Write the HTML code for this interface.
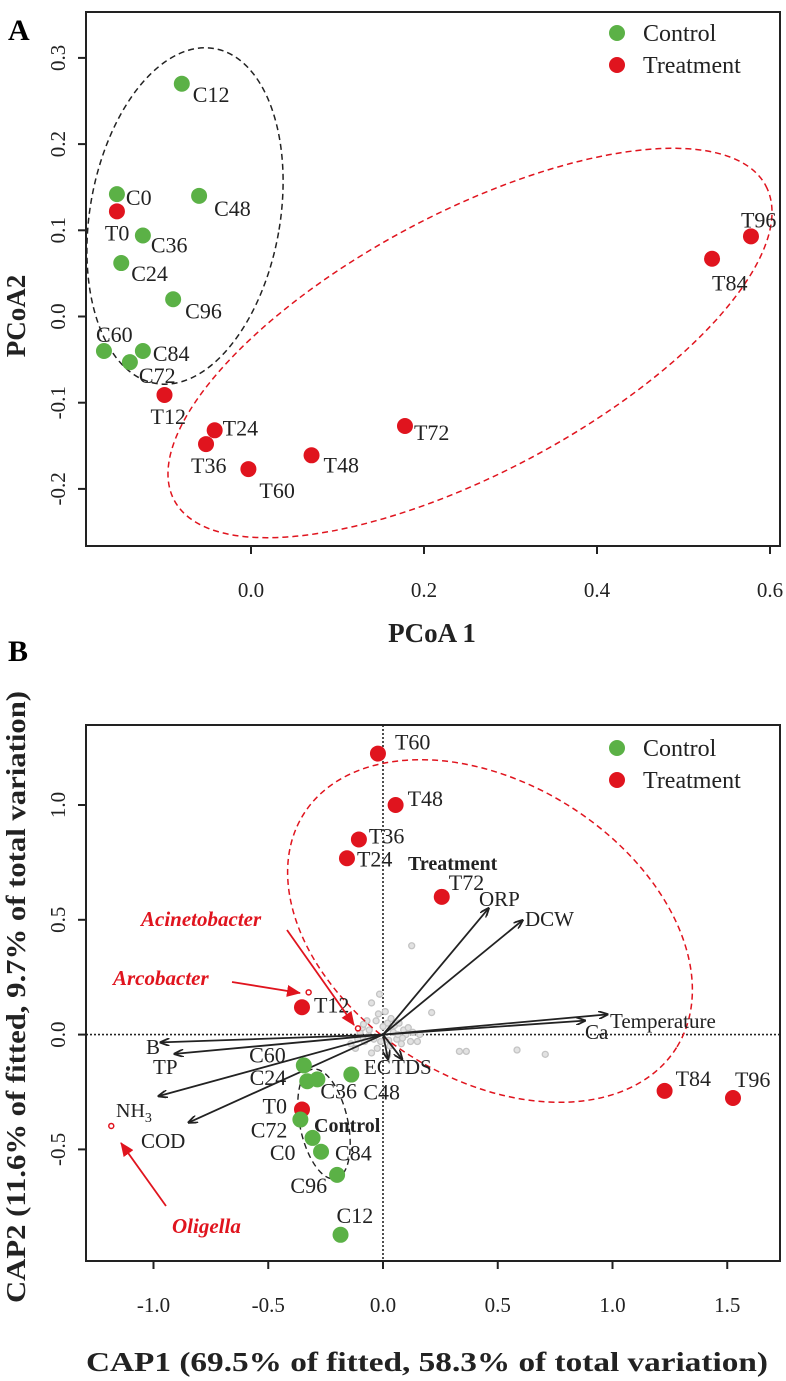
<!DOCTYPE html>
<html><head><meta charset="utf-8"><style>
html,body{margin:0;padding:0;background:#fff}
svg{display:block;font-family:"Liberation Serif",serif}
</style></head><body>
<svg id="chart" width="786" height="1381" viewBox="0 0 786 1381" xmlns="http://www.w3.org/2000/svg">
<g id="pa"></g>
<g id="pb"></g>
</svg>
<script>
// ---------- Panel A data ----------
const aNames = ["C12","C0","T0","C48","C36","C24","C96","C60","C84","C72","T12","T24","T36","T60","T48","T72","T84","T96"];
const aX = [-0.08,-0.155,-0.155,-0.06,-0.125,-0.15,-0.09,-0.17,-0.125,-0.14,-0.1,-0.042,-0.052,-0.003,0.07,0.178,0.533,0.578];
const aY = [0.27,0.142,0.122,0.14,0.094,0.062,0.02,-0.04,-0.04,-0.053,-0.091,-0.132,-0.148,-0.177,-0.161,-0.127,0.067,0.093];
const aLabDX = [11,9,-12,15,8,10,12,-8,10,9,-14,8,-15,11,12,9,0,-10];
const aLabDY = [18,11,29,20,17,18,19,-9,10,21,29,5,29,29,17,14,32,-9];
const aXTicks = [0.0,0.2,0.4,0.6];
const aYTicks = [-0.2,-0.1,0.0,0.1,0.2,0.3];
const aXTickLabels = ["0.0","0.2","0.4","0.6"];
const aYTickLabels = ["-0.2","-0.1","0.0","0.1","0.2","0.3"];

// ---------- Panel B data ----------
const bNames = ["T60","T48","T36","T24","T72","T12","T84","T96","C60","C24","C36","C48","T0","C72","C0","C84","C96","C12"];
const bX = [-0.022,0.055,-0.105,-0.157,0.256,-0.353,1.227,1.525,-0.345,-0.33,-0.286,-0.138,-0.353,-0.36,-0.307,-0.27,-0.2,-0.185];
const bY = [1.224,1.0,0.85,0.768,0.6,0.119,-0.245,-0.276,-0.134,-0.203,-0.195,-0.174,-0.326,-0.37,-0.45,-0.51,-0.611,-0.872];
const bLabDX = [17,12,10,10,7,12,11,2,-18,-21,3,12,-15,-13,-17,14,-10,-4];
const bLabDY = [-4,1,4,8,-7,5,-5,-11,-3,4,19,25,4,18,22,9,18,-12];
const bLabAnchor = ["start","start","start","start","start","start","start","start","end","end","start","start","end","end","end","start","end","start"];
const envNames = ["ORP","DCW","Temperature","Ca","B","TP","NH3","COD","EC","TDS"];
const envX = [0.46,0.608,0.978,0.88,-0.969,-0.908,-0.978,-0.847,0.022,0.083];
const envY = [0.55,0.498,0.088,0.061,-0.034,-0.084,-0.268,-0.383,-0.107,-0.107];
const envLabX = [479,525,610,585,146,153,116,141,364,392];
const envLabY = [906,926,1028,1039,1054,1074,1117,1148,1074,1074];
const grayX = [0.125,0.212,0.333,0.363,0.584,0.707,-0.015,-0.05,0.02,0.04,-0.03,-0.06,0.06,0.08,-0.08,0.1,-0.1,0.03,-0.04,0.05,0.09,-0.02,0.12,-0.12,0.15,0.01,-0.07,0.07,0.02,-0.01,0.045,-0.05,-0.09,-0.11,0.11,0.13,-0.14,0.16,0.035,-0.025,0.065,-0.065,0.0,0.085,-0.085,0.025];
const grayY = [0.387,0.096,-0.073,-0.073,-0.067,-0.086,0.176,0.138,0.05,0.03,0.06,0.02,-0.02,-0.04,-0.03,0.0,0.01,-0.05,-0.02,0.04,0.02,0.09,-0.03,-0.06,-0.03,0.1,0.06,0.05,-0.09,-0.03,0.01,-0.08,0.03,-0.02,0.03,0.01,-0.04,0.0,0.07,-0.06,0.0,-0.01,0.035,-0.015,0.045,-0.025];
const bXTicks = [-1.0,-0.5,0.0,0.5,1.0,1.5];
const bYTicks = [-0.5,0.0,0.5,1.0];
const bXTickLabels = ["-1.0","-0.5","0.0","0.5","1.0","1.5"];
const bYTickLabels = ["-0.5","0.0","0.5","1.0"];

const GREEN="#5bb146", RED="#e0141e", NS="http://www.w3.org/2000/svg";
function mk(parent, tag, attrs, text){
  const e=document.createElementNS(NS,tag);
  for(const k in attrs) e.setAttribute(k,attrs[k]);
  if(text!==undefined) e.textContent=text;
  parent.appendChild(e); return e;
}
const axA = v => 251 + 865*v;
const ayA = v => 316.5 - 862*v;
const axB = v => 383 + 229.5*v;
const ayB = v => 1034.6 - 229.6*v;

// ===== Panel A =====
const pa=document.getElementById('pa');
let t;
t=mk(pa,'text',{x:8,y:40,'font-size':30,'font-weight':'bold'},'A');
 
t=mk(pa,'ellipse',{cx:185,cy:216,rx:95,ry:170,transform:'rotate(10 185 216)',fill:'none',stroke:'#222','stroke-width':1.5,'stroke-dasharray':'6,4'});
 
t=mk(pa,'ellipse',{cx:470,cy:343,rx:335,ry:130,transform:'rotate(-28 470 343)',fill:'none',stroke:RED,'stroke-width':1.5,'stroke-dasharray':'6,4'});
 
aNames.forEach((n,i)=>{
  const cx=axA(aX[i]), cy=ayA(aY[i]);
  const c=mk(pa,'circle',{cx:cx,cy:cy,r:8,fill:n[0]==='C'?GREEN:RED});
  
  
  const l=mk(pa,'text',{x:cx+aLabDX[i],y:cy+aLabDY[i],'font-size':22,fill:'#222'},n);
  
  
});
t=mk(pa,'rect',{x:86,y:12,width:694,height:534,fill:'none',stroke:'#222','stroke-width':2});
 
aXTicks.forEach((v,i)=>{
  const x=axA(v);
  const tk=mk(pa,'line',{x1:x,y1:546,x2:x,y2:554,stroke:'#222','stroke-width':2});
   
  const tl=mk(pa,'text',{x:x,y:597,'font-size':21,'text-anchor':'middle',fill:'#222'},aXTickLabels[i]);
   
});
aYTicks.forEach((v,i)=>{
  const y=ayA(v);
  const tk=mk(pa,'line',{x1:78,y1:y,x2:86,y2:y,stroke:'#222','stroke-width':2});
   
  const tl=mk(pa,'text',{x:0,y:0,'font-size':21,'text-anchor':'middle',fill:'#222',transform:`translate(65 ${y}) rotate(-90)`},aYTickLabels[i]);
   
});
t=mk(pa,'text',{x:432,y:642,'font-size':27,'font-weight':'bold','text-anchor':'middle',fill:'#222'},'PCoA 1');
 
t=mk(pa,'text',{x:0,y:0,'font-size':27,'font-weight':'bold','text-anchor':'middle',fill:'#222',transform:'translate(25 316) rotate(-90)'},'PCoA2');
 
[[33,GREEN,'Control'],[65,RED,'Treatment']].forEach(d=>{
  const c=mk(pa,'circle',{cx:617,cy:d[0],r:8,fill:d[1]});
   
  const l=mk(pa,'text',{x:643,y:d[0]+8,'font-size':24,fill:'#222'},d[2]);
   
});

// ===== Panel B =====
const pb=document.getElementById('pb');
const defs=mk(pb,'defs',{});
const m1=mk(defs,'marker',{id:'ah',markerWidth:10,markerHeight:8,refX:9,refY:4,orient:'auto',markerUnits:'userSpaceOnUse'});
mk(m1,'path',{d:'M0,0 L10,4 L0,8',fill:'none',stroke:'#222','stroke-width':1.8});
const m2=mk(defs,'marker',{id:'ahr',markerWidth:14,markerHeight:12,refX:13,refY:6,orient:'auto',markerUnits:'userSpaceOnUse'});
mk(m2,'path',{d:'M0,0 L14,6 L0,12 Z',fill:RED});
t=mk(pb,'text',{x:8,y:661,'font-size':30,'font-weight':'bold'},'B');
 
t=mk(pb,'line',{x1:axB(0),y1:725,x2:axB(0),y2:1261,stroke:'#222','stroke-width':1.6,'stroke-dasharray':'2,2'});
 
t=mk(pb,'line',{x1:86,y1:ayB(0),x2:780,y2:ayB(0),stroke:'#222','stroke-width':1.6,'stroke-dasharray':'2,2'});
 
grayX.forEach((v,i)=>{
  const g=mk(pb,'circle',{cx:axB(v),cy:ayB(grayY[i]),r:3,fill:'#e2e2e2',stroke:'#c4c4c4','stroke-width':1.3});
   
});
t=mk(pb,'ellipse',{cx:490,cy:931,rx:220,ry:148,transform:'rotate(32 490 931)',fill:'none',stroke:RED,'stroke-width':1.5,'stroke-dasharray':'6,4'});
 
t=mk(pb,'ellipse',{cx:324,cy:1124,rx:24,ry:56,transform:'rotate(-12 324 1124)',fill:'none',stroke:'#222','stroke-width':1.4,'stroke-dasharray':'6,4'});
 
envNames.forEach((n,i)=>{
  const a=mk(pb,'line',{x1:axB(0),y1:ayB(0),x2:axB(envX[i]),y2:ayB(envY[i]),stroke:'#222','stroke-width':1.8,'marker-end':'url(#ah)'});
  
  
});
envNames.forEach((n,i)=>{
  let l;
  if(n==='NH3'){
    l=mk(pb,'text',{x:envLabX[i],y:envLabY[i],'font-size':20,fill:'#222'},'NH');
    mk(l,'tspan',{'font-size':14,dy:5},'3');
  } else {
    l=mk(pb,'text',{x:envLabX[i],y:envLabY[i],'font-size':21,fill:'#222'},n);
  }
  
  
});
bNames.forEach((n,i)=>{
  const cx=axB(bX[i]), cy=ayB(bY[i]);
  const c=mk(pb,'circle',{cx:cx,cy:cy,r:8,fill:n[0]==='C'?GREEN:RED});
  
  
  const l=mk(pb,'text',{x:cx+bLabDX[i],y:cy+bLabDY[i],'font-size':22,fill:'#222','text-anchor':bLabAnchor[i]},n);
  
  
});
t=mk(pb,'text',{x:408,y:870,'font-size':20,'font-weight':'bold',fill:'#222'},'Treatment');
 
t=mk(pb,'text',{x:314,y:1132,'font-size':20,'font-weight':'bold',fill:'#222'},'Control');
 
const spNames=["Arcobacter","Acinetobacter","Oligella"];
const spX=[-0.324,-0.109,-1.184];
const spY=[0.184,0.027,-0.398];
spNames.forEach((n,i)=>{
  const c=mk(pb,'circle',{cx:axB(spX[i]),cy:ayB(spY[i]),r:2.5,fill:'#fff',stroke:RED,'stroke-width':1.5});
  
  
});
[[232,982,300,993],[287,930,354,1025],[166,1206,121,1143]].forEach((d,i)=>{
  const a=mk(pb,'line',{x1:d[0],y1:d[1],x2:d[2],y2:d[3],stroke:RED,'stroke-width':1.8,'marker-end':'url(#ahr)'});
   
});
[[113,985,'Arcobacter'],[141,926,'Acinetobacter'],[172,1233,'Oligella']].forEach(d=>{
  const l=mk(pb,'text',{x:d[0],y:d[1],'font-size':21,'font-weight':'bold','font-style':'italic',fill:RED},d[2]);
   
});
t=mk(pb,'rect',{x:86,y:725,width:694,height:536,fill:'none',stroke:'#222','stroke-width':2});
 
bXTicks.forEach((v,i)=>{
  const x=axB(v);
  const tk=mk(pb,'line',{x1:x,y1:1261,x2:x,y2:1269,stroke:'#222','stroke-width':2});
   
  const tl=mk(pb,'text',{x:x,y:1312,'font-size':21,'text-anchor':'middle',fill:'#222'},bXTickLabels[i]);
   
});
bYTicks.forEach((v,i)=>{
  const y=ayB(v);
  const tk=mk(pb,'line',{x1:78,y1:y,x2:86,y2:y,stroke:'#222','stroke-width':2});
   
  const tl=mk(pb,'text',{x:0,y:0,'font-size':21,'text-anchor':'middle',fill:'#222',transform:`translate(65 ${y}) rotate(-90)`},bYTickLabels[i]);
   
});
t=mk(pb,'text',{x:86,y:1371,'font-size':27,'font-weight':'bold',fill:'#222',textLength:682,lengthAdjust:'spacingAndGlyphs'},'CAP1 (69.5% of fitted, 58.3% of total variation)');
 
t=mk(pb,'text',{x:0,y:0,'font-size':27,'font-weight':'bold',fill:'#222',textLength:612,lengthAdjust:'spacingAndGlyphs',transform:'translate(25 1303) rotate(-90)'},'CAP2 (11.6% of fitted, 9.7% of total variation)');
 
[[748,GREEN,'Control'],[780,RED,'Treatment']].forEach(d=>{
  const c=mk(pb,'circle',{cx:617,cy:d[0],r:8,fill:d[1]});
   
  const l=mk(pb,'text',{x:643,y:d[0]+8,'font-size':24,fill:'#222'},d[2]);
   
});
</script>
</body></html>
